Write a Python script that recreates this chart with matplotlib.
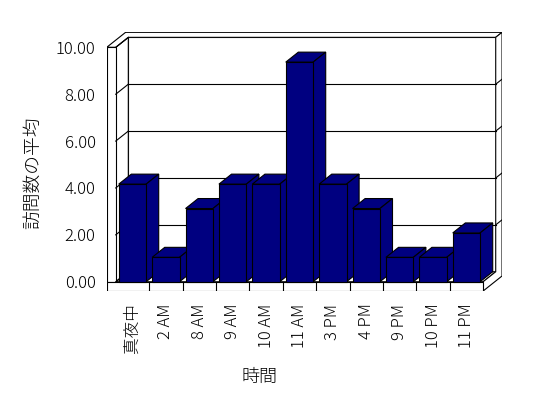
import matplotlib
matplotlib.use('Agg')
import matplotlib.pyplot as plt
from matplotlib.patches import Polygon
import numpy as np

plt.rcParams['font.family'] = ['Noto Sans CJK JP', 'DejaVu Sans']
plt.rcParams['font.weight'] = 'light'

# data
categories = ['真夜中', '2 AM', '8 AM', '9 AM', '10 AM', '11 AM',
              '3 PM', '4 PM', '9 PM', '10 PM', '11 PM']
avg_visits = [4, 1, 3, 4, 4, 9, 4, 3, 1, 1, 2]
wall_ticks = [0, 2, 4, 6, 8, 10]
ylabel = '訪問数の平均'
xlabel = '時間'

BAR_COLOR = '#000080'
LW = 0.8

# fake 3d geometry (data units)
DX, DY = 0.377, 0.41        # depth offset of the plot box
K = 0.9607                  # wall scale vs bar scale
TOP = max(wall_ticks) * K   # wall height at the front
WALL_T = 0.27               # left wall thickness
FLOOR_T = 0.38              # floor thickness
HALF = 0.41                 # half bar width
n = len(categories)
x0, x1 = -0.5, n - 0.5

fig = plt.figure(figsize=(5.48, 3.98), dpi=100)
ax = fig.add_axes([0.1947, 0.2688, 0.7219, 0.6515])
ax.set_xlim(x0 - WALL_T, x0 - WALL_T + 11.844)
ax.set_ylim(-FLOOR_T, -FLOOR_T + 10.627)


def face(pts, z, fc='white'):
    ax.add_patch(Polygon(pts, closed=True, facecolor=fc, edgecolor='black',
                         lw=LW, zorder=z, joinstyle='miter'))


xl, xr = x0 + DX, x1 + DX
yb, yt = DY, TOP + DY
hx, hy = 0.5 * DX, 0.5 * DY

# back wall
face([(xl, yb), (xr, yb), (xr, yt), (xl, yt)], 1)
# floor top
face([(x0, 0), (x1, 0), (xr, yb), (xl, yb)], 1)
# left wall inner face
face([(x0, 0), (xl, yb), (xl, yt), (x0, TOP)], 1)
# top of walls
face([(x0 - WALL_T, TOP), (x0, TOP), (xl, yt), (xr, yt), (xr + hx, yt + hy),
      (x0 - WALL_T + DX + hx, TOP + DY + hy)], 1)
# right side of floor + back wall
face([(x1, -FLOOR_T), (x1, 0), (xr, yb), (xr, yt), (xr + hx, yt + hy),
      (xr + hx, -FLOOR_T + DY + hy)], 1)
# left wall front
face([(x0 - WALL_T, 0), (x0, 0), (x0, TOP), (x0 - WALL_T, TOP)], 2)
# floor front
face([(x0 - WALL_T, -FLOOR_T), (x1, -FLOOR_T), (x1, 0), (x0 - WALL_T, 0)], 2)

# gridlines
for v in wall_ticks[1:-1]:
    y = v * K
    ax.plot([xl, xr], [y + DY, y + DY], color='black', lw=LW, zorder=3)
    ax.plot([xr, xr + hx], [y + DY, y + DY + hy], color='black', lw=LW, zorder=3)
for v in wall_ticks:
    y = v * K
    ax.plot([x0, xl], [y, y + DY], color='black', lw=LW, zorder=3)
for i in range(n - 1):
    ax.plot([i + 0.5, i + 0.5], [-FLOOR_T, 0], color='black', lw=LW, zorder=3)

# bars
xs = np.arange(n)
bars = ax.bar(xs, avg_visits, width=2 * HALF, color=BAR_COLOR,
              edgecolor='black', linewidth=LW)
for i, (rect, v) in enumerate(zip(bars, avg_visits)):
    rect.set_zorder(11 + 2 * i)
    l, r = i - HALF, i + HALF
    face([(l, v), (r, v), (r + DX, v + DY), (l + DX, v + DY)], 10 + 2 * i, BAR_COLOR)
    face([(r, 0), (r + DX, DY), (r + DX, v + DY), (r, v)], 10 + 2 * i, BAR_COLOR)

# axes text
ax.set_xticks(xs, categories, rotation=90, fontsize=12)
ax.set_yticks(np.array(wall_ticks) * K, [f'{v:.2f}' for v in wall_ticks], fontsize=12)
ax.tick_params(axis='x', length=0, pad=9)
ax.tick_params(axis='y', direction='in', length=6.5, width=LW, pad=8)
for s in ax.spines.values():
    s.set_visible(False)

ax.text(-0.186, 0.455, ylabel, transform=ax.transAxes, rotation=90,
        ha='center', va='center', fontsize=13.5)
ax.text(0.3875, -0.33, xlabel, transform=ax.transAxes,
        ha='center', va='center', fontsize=13)

fig.savefig('out.png', dpi=100)
plt.close(fig)
